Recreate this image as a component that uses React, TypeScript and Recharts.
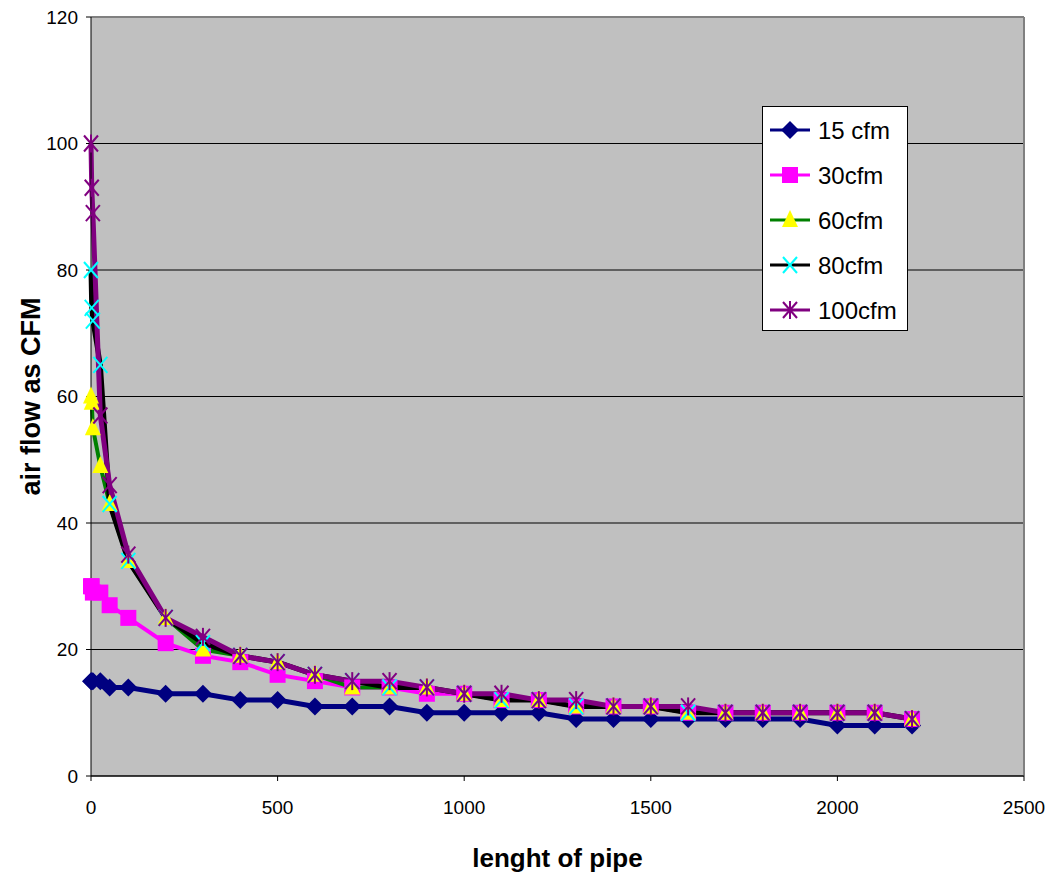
import React from "react";
import {
  LineChart,
  Line,
  XAxis,
  YAxis,
  CartesianGrid,
  ReferenceLine,
} from "recharts";

const lengths = [0, 2, 5, 25, 50, 100, 200, 300, 400, 500, 600, 700, 800, 900, 1000, 1100, 1200, 1300, 1400, 1500, 1600, 1700, 1800, 1900, 2000, 2100, 2200];
const cfm15 = [15, 15, 15, 15, 14, 14, 13, 13, 12, 12, 11, 11, 11, 10, 10, 10, 10, 9, 9, 9, 9, 9, 9, 9, 8, 8, 8];
const cfm30 = [30, 30, 29, 29, 27, 25, 21, 19, 18, 16, 15, 14, 14, 13, 13, 12, 12, 11, 11, 11, 10, 10, 10, 10, 10, 10, 9];
const cfm60 = [60, 59, 55, 49, 43, 34, 25, 20, 19, 18, 16, 14, 14, 14, 13, 12, 12, 11, 11, 11, 10, 10, 10, 10, 10, 10, 9];
const cfm80 = [80, 74, 72, 65, 43, 34, 25, 21, 19, 18, 16, 15, 14, 14, 13, 12, 12, 11, 11, 11, 10, 10, 10, 10, 10, 10, 9];
const cfm100 = [100, 93, 89, 57, 46, 35, 25, 22, 19, 18, 16, 15, 15, 14, 13, 13, 12, 12, 11, 11, 11, 10, 10, 10, 10, 10, 9];

const xTicks = [0, 500, 1000, 1500, 2000, 2500];
const yTicks = [0, 20, 40, 60, 80, 100, 120];

const data = lengths.map((len, i) => ({
  len,
  s15: cfm15[i],
  s30: cfm30[i],
  s60: cfm60[i],
  s80: cfm80[i],
  s100: cfm100[i],
}));

const FONT = "'Liberation Sans', Arial, sans-serif";

type Shape = "diamond" | "square" | "triangle" | "x" | "star";

function Marker({ shape, cx, cy }: { shape: Shape; cx: number; cy: number }) {
  if (shape === "diamond") {
    return (
      <polygon
        points={`${cx},${cy - 9} ${cx + 9},${cy} ${cx},${cy + 9} ${cx - 9},${cy}`}
        fill="#000080"
      />
    );
  }
  if (shape === "square") {
    return <rect x={cx - 8} y={cy - 8} width={16} height={16} fill="#FF00FF" />;
  }
  if (shape === "triangle") {
    return (
      <polygon
        points={`${cx},${cy - 10} ${cx + 8},${cy + 7} ${cx - 8},${cy + 7}`}
        fill="#FFFF00"
      />
    );
  }
  if (shape === "x") {
    return (
      <g stroke="#00FFFF" strokeWidth={2}>
        <line x1={cx - 7} y1={cy - 8} x2={cx + 7} y2={cy + 8} />
        <line x1={cx - 7} y1={cy + 8} x2={cx + 7} y2={cy - 8} />
      </g>
    );
  }
  return (
    <g stroke="#800080" strokeWidth={2}>
      <line x1={cx - 7} y1={cy - 8} x2={cx + 7} y2={cy + 8} />
      <line x1={cx - 7} y1={cy + 8} x2={cx + 7} y2={cy - 8} />
      <line x1={cx} y1={cy - 9} x2={cx} y2={cy + 9} />
    </g>
  );
}

const makeDot = (shape: Shape) => (props: any) => {
  const { cx, cy, index } = props;
  if (cx == null || cy == null) return <g key={index} />;
  return (
    <g key={index}>
      <Marker shape={shape} cx={cx} cy={cy} />
    </g>
  );
};

const seriesInfo: { key: string; name: string; color: string; shape: Shape; width: number }[] = [
  { key: "s15", name: "15 cfm", color: "#000080", shape: "diamond", width: 5 },
  { key: "s30", name: "30cfm", color: "#FF00FF", shape: "square", width: 4 },
  { key: "s60", name: "60cfm", color: "#008000", shape: "triangle", width: 4 },
  { key: "s80", name: "80cfm", color: "#000000", shape: "x", width: 5 },
  { key: "s100", name: "100cfm", color: "#800080", shape: "star", width: 5 },
];

function LegendBox() {
  return (
    <svg width={146} height={225} style={{ display: "block" }}>
      <rect x={0.5} y={0.5} width={145} height={224} fill="#fff" stroke="#000" />
      {seriesInfo.map((s, i) => {
        const y = 24 + i * 45;
        return (
          <g key={s.key}>
            <line x1={8} y1={y} x2={48} y2={y} stroke={s.color} strokeWidth={3} />
            <Marker shape={s.shape} cx={28} cy={y} />
            <text
              x={56}
              y={y}
              dy="0.36em"
              fontSize={24}
              fontFamily={FONT}
              fill="#000"
            >
              {s.name}
            </text>
          </g>
        );
      })}
    </svg>
  );
}

export default function App() {
  return (
    <div style={{ position: "absolute", left: 0, top: 0, width: 1049, height: 876, background: "#fff" }}>
      <LineChart
        width={1049}
        height={876}
        data={data}
        margin={{ top: 17, right: 25, bottom: 0, left: 0 }}
      >
        <CartesianGrid
          vertical={false}
          stroke="#000"
          strokeOpacity={1}
          fill="#C0C0C0"
          fillOpacity={1}
        />
        <XAxis
          dataKey="len"
          type="number"
          domain={[0, 2500]}
          ticks={xTicks}
          height={100}
          stroke="#000"
          tickSize={5}
          tickMargin={20}
          tick={{ fontSize: 19, fill: "#000", fontFamily: FONT }}
          label={{
            value: "lenght of pipe",
            position: "insideBottom",
            offset: 9,
            fontSize: 26,
            fontWeight: "bold",
            fill: "#000",
            fontFamily: FONT,
          }}
        />
        <YAxis
          type="number"
          domain={[0, 120]}
          ticks={yTicks}
          width={91}
          stroke="#000"
          tickSize={5}
          tickMargin={8}
          tick={{ fontSize: 19, fill: "#000", fontFamily: FONT }}
          label={{
            value: "air flow as CFM",
            angle: -90,
            position: "center",
            dx: -15,
            fontSize: 27,
            fontWeight: "bold",
            fill: "#000",
            fontFamily: FONT,
          }}
        />
        <ReferenceLine y={120} stroke="#808080" strokeWidth={2} />
        <ReferenceLine x={2500} stroke="#808080" strokeWidth={2} />
        {seriesInfo.map((s) => (
          <Line
            key={s.key}
            type="linear"
            dataKey={s.key}
            name={s.name}
            stroke={s.color}
            strokeWidth={s.width}
            dot={makeDot(s.shape)}
            activeDot={false}
            isAnimationActive={false}
          />
        ))}
      </LineChart>
      <div style={{ position: "absolute", left: 762, top: 106 }}>
        <LegendBox />
      </div>
    </div>
  );
}
